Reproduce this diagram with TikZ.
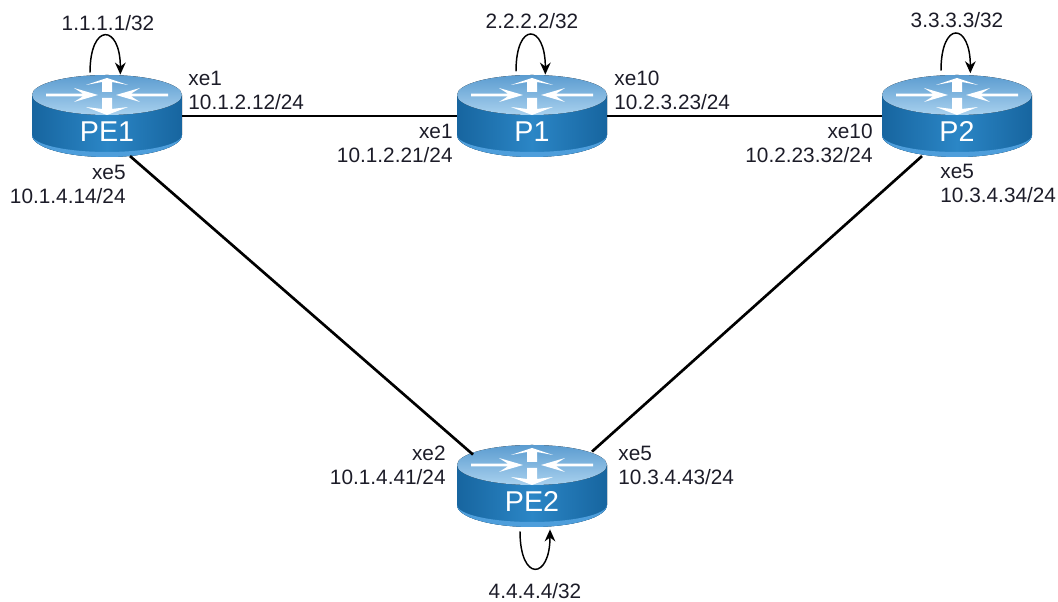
\documentclass[tikz,border=0pt]{standalone}
\usepackage{fontspec}
\setmainfont{Liberation Sans}
\usetikzlibrary{arrows.meta}
\definecolor{bodyedge}{HTML}{17659F}
\definecolor{bodymid}{HTML}{2B86C6}
\definecolor{rimblue}{HTML}{4E9EDB}
\definecolor{topdark}{HTML}{5B9CD0}
\definecolor{toplight}{HTML}{A9D1EE}
\definecolor{labeltext}{HTML}{1C1C28}

\newcommand{\routername}[1]{\raisebox{-19.5pt}[0pt][0pt]{\makebox[0pt]{#1}}}
\newcommand{\routericon}{%
  \begin{scope}[shift={(path picture bounding box.center)}]
    \fill[left color=bodyedge,right color=bodyedge,middle color=bodymid]
      (-75,21) -- (-75,-19) arc[start angle=180,end angle=360,x radius=75,y radius=22] -- (75,21) -- cycle;
    \fill[rimblue] (-75,-19) arc[start angle=180,end angle=360,x radius=75,y radius=22]
      arc[start angle=0,end angle=-180,x radius=75,y radius=17] -- cycle;
    \fill[top color=topdark,bottom color=toplight] (0,21) ellipse[x radius=75,y radius=20];
    % side arrows
    \foreach \s in {1,-1} {
      \fill[white] (\s*61,22.3) -- (\s*24,22.3) -- (\s*33,28) -- (\s*9,21) -- (\s*33,14) -- (\s*24,19.7) -- (\s*61,19.7) -- cycle;
    }
    % up and down arrows
    \fill[white] (-5,24) -- (-5,34) -- (-21,31) -- (0,38) -- (21,31) -- (5,34) -- (5,24) -- cycle;
    \fill[white] (-5,18) -- (-5,7) -- (-21,9) -- (0,1) -- (21,9) -- (5,7) -- (5,18) -- cycle;
  \end{scope}}

\begin{document}
\begin{tikzpicture}[x=0.75pt,y=0.75pt,node distance=318.75pt,semithick]
  \tikzset{
    router/.style={rectangle,inner sep=0pt,minimum width=112.5pt,minimum height=61.5pt,
      text=white,font=\fontsize{21.5}{24}\selectfont,path picture={\routericon}},
    iface/.style={inner sep=0pt,text=labeltext,font=\fontsize{15.6}{18}\selectfont},
    ifaceleft/.style={iface,anchor=west,align=left},
    ifaceright/.style={iface,anchor=east,align=right},
    link/.style={black,line width=2pt},
    selfloop/.style={black,line width=1.1pt,-{Stealth[length=9pt,width=8pt]}}
  }
  \useasboundingbox (0,0) rectangle (1058,602);

  \node[router]        (PE1) at (107,486) {\routername{PE1}};
  \node[router]        (P1)  [right of=PE1] {\routername{P1}};
  \node[router]        (P2)  [right of=P1]  {\routername{P2}};
  \node[router,node distance=277.5pt] (PE2) [below of=P1] {\routername{PE2}};

  \node[iface] (PE1addr) at (108,579) {1.1.1.1/32};
  \node[iface] (P1addr)  at (532,581) {2.2.2.2/32};
  \node[iface] (P2addr)  at (957,582) {3.3.3.3/32};
  \node[iface] (PE2addr) at (535,11)  {4.4.4.4/32};

  \node[ifaceleft]  (PE1a) at (188,512) {xe1\\10.1.2.12/24};
  \node[ifaceright] (PE1b) at (126,418) {xe5\\10.1.4.14/24};
  \node[ifaceright] (P1a)  at (453,459) {xe1\\10.1.2.21/24};
  \node[ifaceleft]  (P1b)  at (614,512) {xe10\\10.2.3.23/24};
  \node[ifaceright] (P2a)  at (873,459) {xe10\\10.2.23.32/24};
  \node[ifaceleft]  (P2b)  at (940,419) {xe5\\10.3.4.34/24};
  \node[ifaceright] (PE2a) at (446,137) {xe2\\10.1.4.41/24};
  \node[ifaceleft]  (PE2b) at (618,137) {xe5\\10.3.4.43/24};

  \path[link] (PE1) edge (P1)
              (P1)  edge (P2);
  \draw[link] ([xshift=17.25pt,yshift=1pt]PE1.south) -- ([xshift=-44.25pt,yshift=-7.5pt]PE2.north);
  \draw[link] ([xshift=-26.25pt,yshift=1pt]P2.south) -- ([xshift=45pt,yshift=-5.25pt]PE2.north);

  \draw[selfloop] ([xshift=-12.75pt,yshift=1.5pt]PE1.north) .. controls +(0,38pt) and +(0,38pt) .. ([xshift=10pt]PE1.north);
  \draw[selfloop] ([xshift=-12pt,yshift=2.5pt]P1.north) .. controls +(0,38pt) and +(0,38pt) .. ([xshift=10pt,yshift=0pt]P1.north);
  \draw[selfloop] ([xshift=-12pt,yshift=3pt]P2.north) .. controls +(0,38pt) and +(0,38pt) .. ([xshift=10pt,yshift=1pt]P2.north);
  \draw[selfloop] ([xshift=-9pt,yshift=-3pt]PE2.south) .. controls +(0,-38pt) and +(0,-38pt) .. ([xshift=13.5pt,yshift=-1.5pt]PE2.south);
\end{tikzpicture}
\end{document}
